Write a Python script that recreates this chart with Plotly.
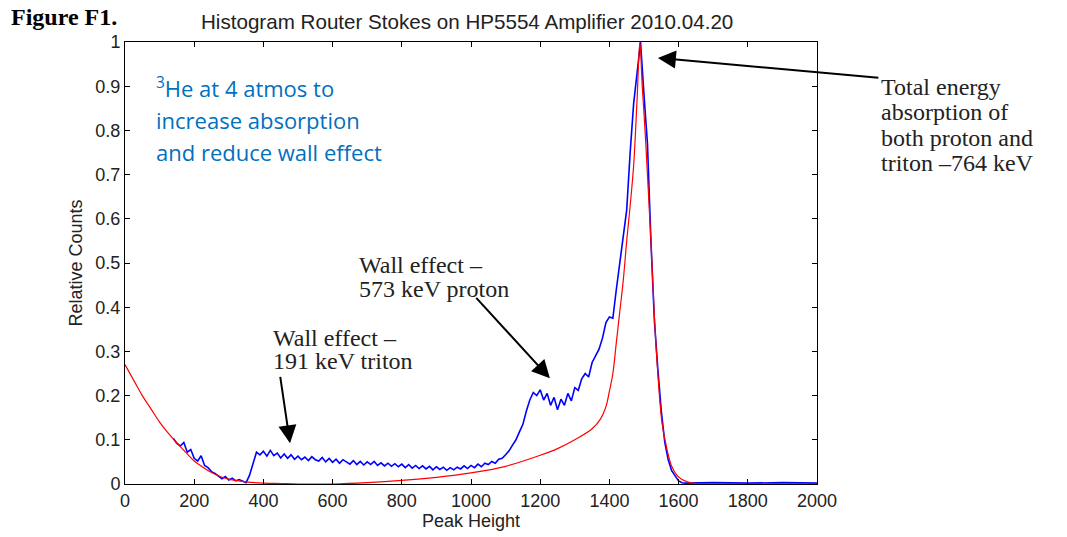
import plotly.graph_objects as go

# Blue: measured histogram (relative counts vs peak height)
blue_x = [140,150,160,170,180,190,200,210,220,230,240,250,260,270,280,290,300,310,320,330,
          340,350,360,370,380,390,400,410,420,430,440,450,460,470,480,490,500,510,520,530,
          540,550,560,570,580,590,600,610,620,630,640,650,660,670,680,690,700,710,720,730,
          740,750,760,770,780,790,800,810,820,830,840,850,860,870,880,890,900,910,920,930,
          940,950,960,970,980,990,1000,1010,1020,1030,1040,1050,1060,1070,1080,1090,1100,
          1110,1120,1130,1140,1150,1160,1170,1180,1190,1200,1210,1220,1230,1240,1250,1260,
          1270,1280,1290,1300,1310,1320,1330,1340,1350,1360,1370,1380,1390,1400,1410,1420,
          1430,1440,1450,1460,1470,1480,1490,1500,1510,1520,1530,1540,1550,1560,1570,1580,
          1590,1600,1610,1620,1700,1800,1900,2000]
blue_y = [0.103,0.092,0.086,0.094,0.072,0.078,0.058,0.052,0.064,0.042,0.037,0.028,0.024,0.018,0.012,0.017,0.009,0.013,0.007,0.010,
          0.006,0.003,0.02,0.045,0.072,0.066,0.074,0.063,0.076,0.064,0.07,0.059,0.068,0.058,0.066,0.056,0.063,0.055,0.061,0.053,
          0.062,0.055,0.052,0.06,0.05,0.058,0.049,0.056,0.047,0.055,0.049,0.045,0.053,0.044,0.051,0.043,0.05,0.044,0.051,0.042,
          0.048,0.041,0.047,0.04,0.046,0.039,0.045,0.037,0.044,0.036,0.042,0.035,0.041,0.034,0.04,0.032,0.039,0.033,0.038,0.031,
          0.037,0.032,0.038,0.034,0.041,0.035,0.042,0.037,0.045,0.039,0.047,0.044,0.051,0.047,0.056,0.058,0.066,
          0.075,0.088,0.1,0.118,0.135,0.165,0.19,0.207,0.2,0.213,0.19,0.205,0.178,0.196,0.168,0.192,
          0.178,0.205,0.188,0.218,0.212,0.238,0.25,0.242,0.275,0.29,0.305,0.33,0.365,0.378,0.375,0.44,
          0.5,0.55,0.62,0.75,0.86,0.93,1.0,0.88,0.77,0.55,0.37,0.26,0.165,0.095,0.055,0.03,
          0.017,0.007,0.003,0.002,0.003,0.002,0.003,0.002]

# Red: fitted response curve
red_x = [0,25,50,75,100,125,150,175,200,225,250,275,300,350,400,450,500,600,700,800,
         900,1000,1100,1200,1250,1300,1350,1375,1390,1400,1410,1420,1430,1440,1450,1460,1470,
         1480,1488,1495,1503,1510,1520,1530,1540,1552,1566,1580,1595,1610,1625,1650,1700,2000]
red_y = [0.27,0.235,0.2,0.17,0.14,0.115,0.093,0.072,0.052,0.038,0.026,0.017,0.011,0.005,0.002,0.001,0.0,0.0,0.003,0.008,
         0.015,0.025,0.04,0.065,0.08,0.1,0.125,0.148,0.175,0.21,0.25,0.32,0.39,0.46,0.55,0.63,0.72,
         0.87,1.0,0.9,0.8,0.7,0.55,0.38,0.25,0.139,0.08,0.04,0.02,0.01,0.005,0.001,0.0,0.0]

x_ticks = [0,200,400,600,800,1000,1200,1400,1600,1800,2000]
y_ticks = [0,0.1,0.2,0.3,0.4,0.5,0.6,0.7,0.8,0.9,1]

fig = go.Figure()
fig.add_trace(go.Scatter(x=blue_x, y=blue_y, mode="lines", line=dict(color="#0000FF", width=1.6),
                         showlegend=False))
fig.add_trace(go.Scatter(x=red_x, y=red_y, mode="lines", line=dict(color="#FF0000", width=1.2),
                         line_shape="spline", showlegend=False))

axis_font = dict(family="Liberation Sans, Arial, sans-serif", size=18, color="#222222")
fig.update_xaxes(range=[0, 2000], tickvals=x_ticks, ticks="inside", ticklen=5, tickcolor="black",
                 showline=True, linecolor="black", linewidth=1, mirror="ticks", showgrid=False,
                 zeroline=False, tickfont=axis_font,
                 title=dict(text="Peak Height", font=dict(family="Liberation Sans, Arial", size=18, color="#222222"), standoff=2))
fig.update_yaxes(range=[0, 1], tickvals=y_ticks, ticks="inside", ticklen=5, tickcolor="black",
                 showline=True, linecolor="black", linewidth=1, mirror="ticks", showgrid=False,
                 zeroline=False, tickfont=axis_font,
                 title=dict(text="Relative Counts", font=dict(family="Liberation Sans, Arial", size=18, color="#222222"), standoff=8))

serif = dict(family="Liberation Serif, Times New Roman, serif", size=24, color="#222222")
blue_font = dict(family="Open Sans, sans-serif", size=22, color="#0070C0")

# (text, left px, centre px, font)
labels = [
    ("<b>Figure F1.</b>", 9, 17, dict(family="Liberation Serif, serif", size=24, color="black")),
    ("Histogram Router Stokes on HP5554 Amplifier 2010.04.20", 199, 21,
     dict(family="Liberation Sans, Arial", size=20.6, color="#222222")),
    ("<sup>3</sup>He at 4 atmos to", 154, 88, blue_font),
    ("increase absorption", 154, 121, blue_font),
    ("and reduce wall effect", 154, 153, blue_font),
    ("Total energy", 879, 88, serif),
    ("absorption of", 879, 113, serif),
    ("both proton and", 879, 139, serif),
    ("triton \u2013764 keV", 879, 164, serif),
    ("Wall effect \u2013", 357, 268, serif),
    ("573 keV proton", 357, 292, serif),
    ("Wall effect \u2013", 271, 341, serif),
    ("191 keV triton", 271, 365, serif),
]
W, H = 1067, 537
for text, px, py, font in labels:
    fig.add_annotation(text=text, xref="paper", yref="paper",
                       x=(px - 125) / (817 - 125), y=(489 - py) / (489 - 42),
                       xanchor="left", yanchor="middle", align="left", showarrow=False, font=font)

arrows = [
    (1540, 0.964, 222, 20),
    (1228, 0.239, -75, -82),
    (477, 0.092, -10, -68),
]
for (hx, hy, ax, ay) in arrows:
    fig.add_annotation(x=hx, y=hy, xref="x", yref="y", ax=ax, ay=ay, text="", showarrow=True,
                       arrowhead=2, arrowsize=1.8, arrowwidth=2, arrowcolor="black")

fig.update_layout(width=W, height=H, margin=dict(l=125, r=250, t=42, b=48),
                  plot_bgcolor="white", paper_bgcolor="white")
fig.write_html("out.html")
